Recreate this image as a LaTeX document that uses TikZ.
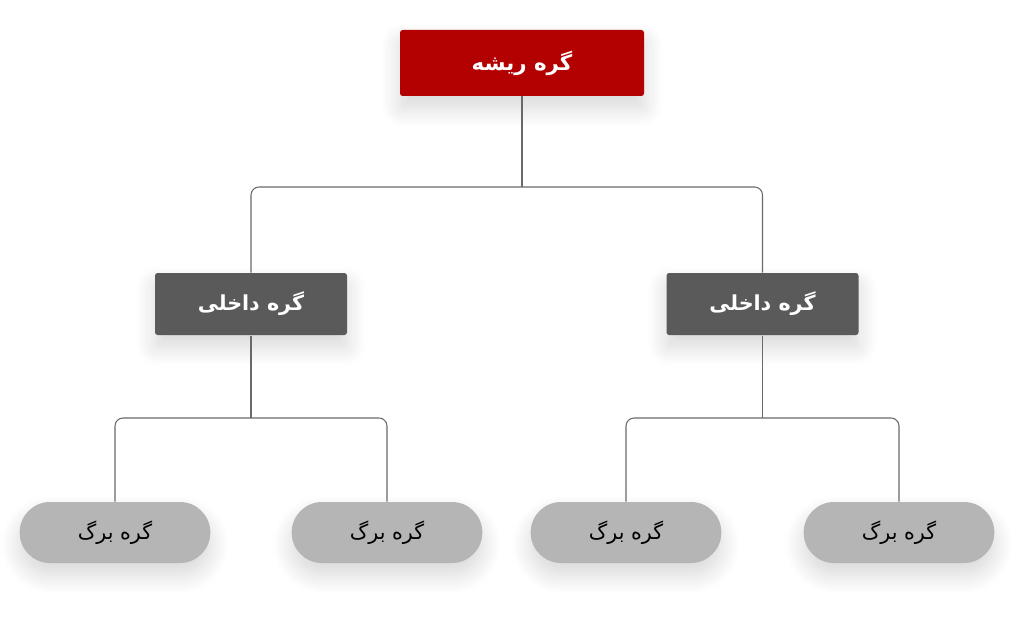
\documentclass[tikz,border=0pt]{standalone}
\usepackage{fontspec}
\newfontfamily\arabicfont[Script=Arabic]{DejaVu Sans}
\TeXXeTstate=1
\usetikzlibrary{shadows.blur}

\definecolor{rootred}{RGB}{179,0,0}
\definecolor{innergray}{RGB}{90,90,90}
\definecolor{leafgray}{RGB}{181,181,181}
\definecolor{linegray}{RGB}{105,105,105}

\tikzset{every picture/.style={line width=0.75pt}}
\tikzset{
	soft shadow/.style={blur shadow={shadow xshift=0pt, shadow yshift=-9pt, shadow blur radius=14pt, shadow opacity=16, shadow blur steps=16}},
	rootbox/.style={fill=rootred, rounded corners=2pt, minimum width=183pt, minimum height=49.5pt, text=white, font=\arabicfont\bfseries\fontsize{16}{18}\selectfont, soft shadow},
	innerbox/.style={fill=innergray, rounded corners=2pt, minimum width=144pt, minimum height=46.5pt, text=white, font=\arabicfont\bfseries\fontsize{15.5}{17}\selectfont, soft shadow},
	leafbox/.style={fill=leafgray, rounded corners=22.8pt, minimum width=143pt, minimum height=45.75pt, text=black, font=\arabicfont\fontsize{15.5}{17}\selectfont, soft shadow},
	link/.style={draw=linegray, line width=0.8pt, rounded corners=6pt}}

\begin{document}
\begin{tikzpicture}[x=0.75pt,y=0.75pt,yscale=-1,xscale=1]
	\useasboundingbox (0,0) rectangle (1024,617);

	% Root Node
	\node [rootbox] (root) at (522,63) {\beginR گره ریشه\endR};
	% Inner Nodes
	\node [innerbox] (innerleft) at (251,304) {\beginR گره داخلی\endR};
	\node [innerbox] (innerright) at (762.5,304) {\beginR گره داخلی\endR};
	% Leaf Nodes
	\node [leafbox] (leafa) at (115,532.5) {\beginR گره برگ\endR};
	\node [leafbox] (leafb) at (387,532.5) {\beginR گره برگ\endR};
	\node [leafbox] (leafc) at (626,532.5) {\beginR گره برگ\endR};
	\node [leafbox] (leafd) at (899,532.5) {\beginR گره برگ\endR};

	% Joints
	\coordinate (rootjoin) at (522,187);
	\coordinate (leftjoin) at (251,418);
	\coordinate (rightjoin) at (762.5,418);

	% Links
	\draw [link] (root.south) -- (rootjoin);
	\draw [link] (innerleft.north) |- (rootjoin) -| (innerright.north);
	\draw [link] (innerleft.south) -- (leftjoin);
	\draw [link] (leafa.north) |- (leftjoin) -| (leafb.north);
	\draw [link] (innerright.south) -- (rightjoin);
	\draw [link] (leafc.north) |- (rightjoin) -| (leafd.north);

\end{tikzpicture}
\end{document}
